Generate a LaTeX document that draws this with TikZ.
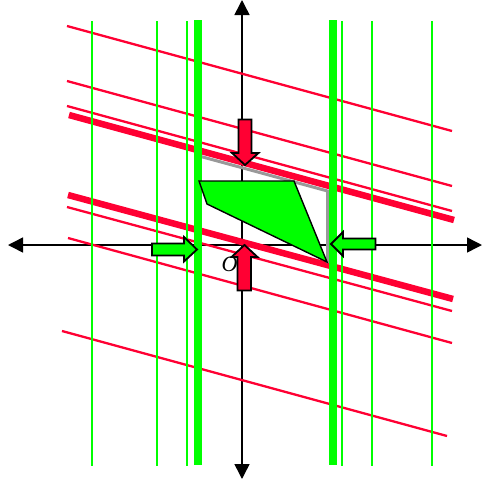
\documentclass[tikz,border=0pt]{standalone}
\usepackage{fontspec}
\setmainfont{Liberation Serif}
\usetikzlibrary{arrows.meta}
\definecolor{ink}{HTML}{000000}
\definecolor{vred}{HTML}{FF0033}
\definecolor{vgreen}{HTML}{00FF00}
\definecolor{rim}{HTML}{999999}

\begin{document}
\begin{tikzpicture}[x=1pt,y=-1pt,>={Triangle[length=15pt,width=15pt]},
    line cap=butt,line join=miter,
    thinred/.style={vred,line width=2.3pt},
    thickred/.style={vred,line width=6.5pt},
    thingreen/.style={vgreen,line width=2.6pt},
    thickgreen/.style={vgreen,line width=7.5pt},
    redarrow/.style={fill=vred,draw=ink,line width=1.8pt},
    greenarrow/.style={fill=vgreen,draw=ink,line width=1.8pt}]
  \useasboundingbox (0,0) rectangle (482,483);
  \coordinate (O) at (242,245);
  \coordinate (W) at (8,245);
  \coordinate (E) at (482,245);
  \coordinate (N) at (242,0);
  \coordinate (S) at (242,479);

  % axes
  \draw[ink,line width=1.5pt,<->] (W)--(E);
  \draw[ink,line width=1.5pt,<->] (S)--(N);

  % red lines
  \draw[thinred] (67,26)--(452,131);
  \draw[thinred] (67,81)--(452,186);
  \draw[thinred] (67,106)--(452,211);
  \draw[thickred] (69,115)--(454,220);
  \draw[thickred] (68,195)--(453,299);
  \draw[thinred] (67,207)--(452,311);
  \draw[thinred] (68,238)--(452,343);
  \draw[thinred] (62,331)--(447,436);

  \draw[rim,line width=3pt] (199,156)--(327.5,191)--(327.5,263);

  % green lines
  \foreach \gx in {92,157,187,342,372,432}
    \draw[thingreen] (\gx,21)--(\gx,466);
  \foreach \gx in {198,333}
    \draw[thickgreen] (\gx,20)--(\gx,465);

  \draw[fill=vgreen,draw=ink,line width=1.4pt]
    (199,181)--(294,181)--(327,262)--(207,204)--cycle;

  % block arrows
  \draw[redarrow] (238.5,119.5)--(251.5,119.5)--(251.5,153)--(258.5,153)
    --(245,165)--(232,153)--(238.5,153)--cycle;
  \draw[redarrow] (237.5,290.5)--(251,290.5)--(251,257)--(257.5,257)
    --(244.5,245)--(231.5,257)--(237.5,257)--cycle;
  \draw[greenarrow] (152,243.5)--(184,243.5)--(184,237)--(197,249.5)
    --(184,261.5)--(184,255.5)--(152,255.5)--cycle;
  \draw[greenarrow] (375.5,238.5)--(343,238.5)--(343,232)--(331,244)
    --(343,256)--(343,249.5)--(375.5,249.5)--cycle;

  \node[font=\fontsize{22}{22}\selectfont\itshape,inner sep=0pt] (originlabel)
    at (229.5,264) {O};
\end{tikzpicture}
\end{document}
